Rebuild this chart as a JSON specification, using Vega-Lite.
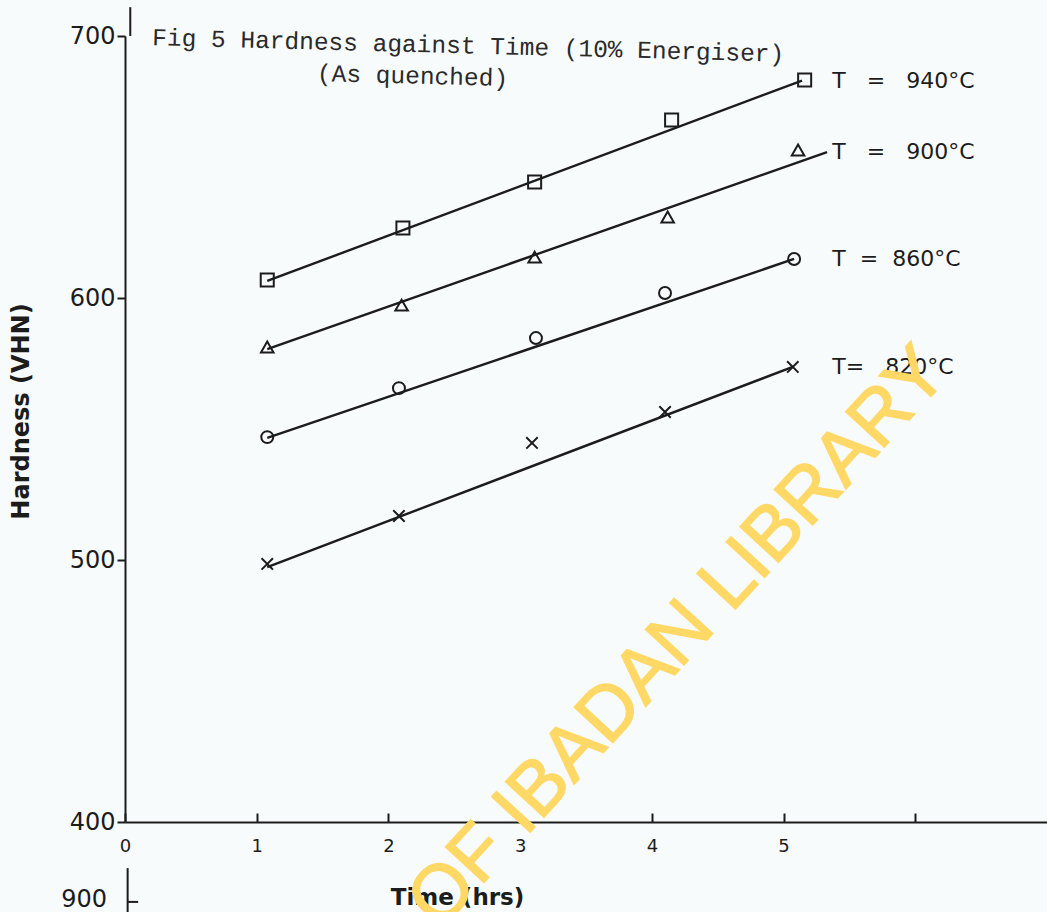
{
  "$schema": "https://vega.github.io/schema/vega-lite/v6.json",
  "width": 922,
  "height": 786,
  "autosize": {"type": "none"},
  "padding": {"left": 125, "top": 36, "right": 0, "bottom": 90},
  "background": "#f8fbfb",
  "config": {"view": {"stroke": null}, "font": "DejaVu Sans"},
  "datasets": {
    "readings": [
      {"T": 940, "t": 1.08, "h": 606.9}, {"T": 940, "t": 2.11, "h": 626.7}, {"T": 940, "t": 3.11, "h": 644.3}, {"T": 940, "t": 4.15, "h": 667.9}, {"T": 940, "t": 5.16, "h": 683.2},
      {"T": 900, "t": 1.08, "h": 581.3}, {"T": 900, "t": 2.10, "h": 597.3}, {"T": 900, "t": 3.11, "h": 615.6}, {"T": 900, "t": 4.12, "h": 630.9}, {"T": 900, "t": 5.11, "h": 656.5},
      {"T": 860, "t": 1.08, "h": 546.9}, {"T": 860, "t": 2.08, "h": 565.6}, {"T": 860, "t": 3.12, "h": 584.7}, {"T": 860, "t": 4.10, "h": 601.9}, {"T": 860, "t": 5.08, "h": 614.9},
      {"T": 820, "t": 1.08, "h": 498.5}, {"T": 820, "t": 2.08, "h": 516.8}, {"T": 820, "t": 3.09, "h": 544.7}, {"T": 820, "t": 4.10, "h": 556.5}, {"T": 820, "t": 5.07, "h": 573.7}
    ],
    "fits": [
      {"T": 940, "t0": 1.08, "h0": 606.5, "t1": 5.14, "h1": 683.0, "label": "T\u00a0\u00a0 =\u00a0\u00a0 940°C"},
      {"T": 900, "t0": 1.08, "h0": 580.5, "t1": 5.33, "h1": 655.7, "label": "T\u00a0\u00a0 =\u00a0\u00a0 900°C"},
      {"T": 860, "t0": 1.08, "h0": 546.6, "t1": 5.08, "h1": 614.9, "label": "T\u00a0 =\u00a0 860°C"},
      {"T": 820, "t0": 1.08, "h0": 497.3, "t1": 5.07, "h1": 573.7, "label": "T=\u00a0\u00a0 820°C"}
    ],
    "note": [{}]
  },
  "layer": [
    {
      "data": {"name": "fits"},
      "mark": {"type": "rule", "color": "#1c1c1c", "strokeWidth": 2.4},
      "encoding": {
        "x": {
          "field": "t0", "type": "quantitative",
          "scale": {"domain": [0, 7], "nice": false, "zero": false},
          "axis": {
            "title": "Time (hrs)",
            "values": [0, 1, 2, 3, 4, 5, 6],
            "format": "d",
            "labelExpr": "datum.value > 5 ? '' : datum.label",
            "grid": false,
            "tickSize": -9,
            "labelPadding": 24,
            "labelFlush": false,
            "labelOverlap": false,
            "labelFontSize": 18,
            "labelColor": "#1c1c1c",
            "domainColor": "#1c1c1c",
            "domainWidth": 2,
            "tickColor": "#1c1c1c",
            "tickWidth": 2,
            "titleFontSize": 23,
            "titleFontWeight": "bold",
            "titleColor": "#1c1c1c",
            "titleX": 332,
            "titleY": 75,
            "titleAlign": "center",
            "titleBaseline": "middle"
          }
        },
        "x2": {"field": "t1"},
        "y": {
          "field": "h0", "type": "quantitative",
          "scale": {"domain": [400, 700], "nice": false, "zero": false},
          "axis": {
            "title": "Hardness (VHN)",
            "values": [400, 500, 600, 700],
            "grid": false,
            "tickSize": 8,
            "labelPadding": 2,
            "labelFlush": false,
            "labelFontSize": 24,
            "labelColor": "#1c1c1c",
            "domainColor": "#1c1c1c",
            "domainWidth": 2,
            "tickColor": "#1c1c1c",
            "tickWidth": 2,
            "titleFontSize": 24,
            "titleFontWeight": "bold",
            "titleColor": "#1c1c1c",
            "titleX": -104,
            "titleY": 375,
            "titleAlign": "center",
            "titleBaseline": "middle"
          }
        },
        "y2": {"field": "h1"}
      }
    },
    {
      "data": {"name": "readings"},
      "mark": {"type": "point", "filled": false, "color": "#1c1c1c", "strokeWidth": 2, "opacity": 1},
      "encoding": {
        "x": {"field": "t", "type": "quantitative"},
        "y": {"field": "h", "type": "quantitative"},
        "shape": {
          "field": "T", "type": "nominal", "legend": null,
          "scale": {"domain": [940, 900, 860, 820], "range": ["square", "triangle-up", "circle", "M-1,-1L1,1M-1,1L1,-1"]}
        },
        "size": {
          "field": "T", "type": "nominal", "legend": null,
          "scale": {"domain": [940, 900, 860, 820], "range": [170, 130, 190, 90]}
        }
      }
    },
    {
      "data": {"name": "fits"},
      "mark": {"type": "text", "align": "left", "baseline": "middle", "fontSize": 22, "color": "#1c1c1c"},
      "encoding": {
        "x": {"datum": 5.37, "type": "quantitative"},
        "y": {"field": "h1", "type": "quantitative"},
        "text": {"field": "label"}
      }
    },
    {
      "data": {"name": "note"},
      "mark": {"type": "text", "align": "left", "baseline": "alphabetic", "font": "Liberation Mono", "fontSize": 24.5, "angle": 1.5, "color": "#2a2a2a"},
      "encoding": {
        "x": {"datum": 0.205, "type": "quantitative"},
        "y": {"datum": 696.5, "type": "quantitative"},
        "text": {"value": "Fig 5 Hardness against Time (10% Energiser)"}
      }
    },
    {
      "data": {"name": "note"},
      "mark": {"type": "text", "align": "left", "baseline": "alphabetic", "font": "Liberation Mono", "fontSize": 24.5, "angle": 1.5, "color": "#2a2a2a"},
      "encoding": {
        "x": {"datum": 1.456, "type": "quantitative"},
        "y": {"datum": 682.8, "type": "quantitative"},
        "text": {"value": "(As quenched)"}
      }
    },
    {
      "data": {"name": "note"},
      "mark": {"type": "rule", "color": "#1c1c1c", "strokeWidth": 2},
      "encoding": {
        "x": {"datum": 0.04, "type": "quantitative"},
        "y": {"datum": 700, "type": "quantitative"},
        "y2": {"datum": 711}
      }
    },
    {
      "data": {"name": "note"},
      "mark": {"type": "text", "align": "right", "baseline": "middle", "fontSize": 24, "color": "#1c1c1c"},
      "encoding": {
        "x": {"datum": -0.136, "type": "quantitative"},
        "y": {"datum": 370.4, "type": "quantitative"},
        "text": {"value": "900"}
      }
    },
    {
      "data": {"name": "note"},
      "mark": {"type": "rule", "color": "#1c1c1c", "strokeWidth": 2},
      "encoding": {
        "x": {"datum": 0.02, "type": "quantitative"},
        "y": {"datum": 382.4, "type": "quantitative"},
        "y2": {"datum": 365.6}
      }
    },
    {
      "data": {"name": "note"},
      "mark": {"type": "rule", "color": "#1c1c1c", "strokeWidth": 2},
      "encoding": {
        "x": {"datum": 0.02, "type": "quantitative"},
        "x2": {"datum": 0.1},
        "y": {"datum": 369.5, "type": "quantitative"}
      }
    },
    {
      "data": {"name": "note"},
      "mark": {"type": "text", "align": "center", "baseline": "middle", "font": "Liberation Sans", "fontSize": 76, "angle": 312.6, "color": "#ffd866", "stroke": "#ffd866", "strokeWidth": 1.5},
      "encoding": {
        "x": {"datum": 4.2, "type": "quantitative"},
        "y": {"datum": 470.5, "type": "quantitative"},
        "text": {"value": "OF IBADAN LIBRARY"}
      }
    }
  ]
}
